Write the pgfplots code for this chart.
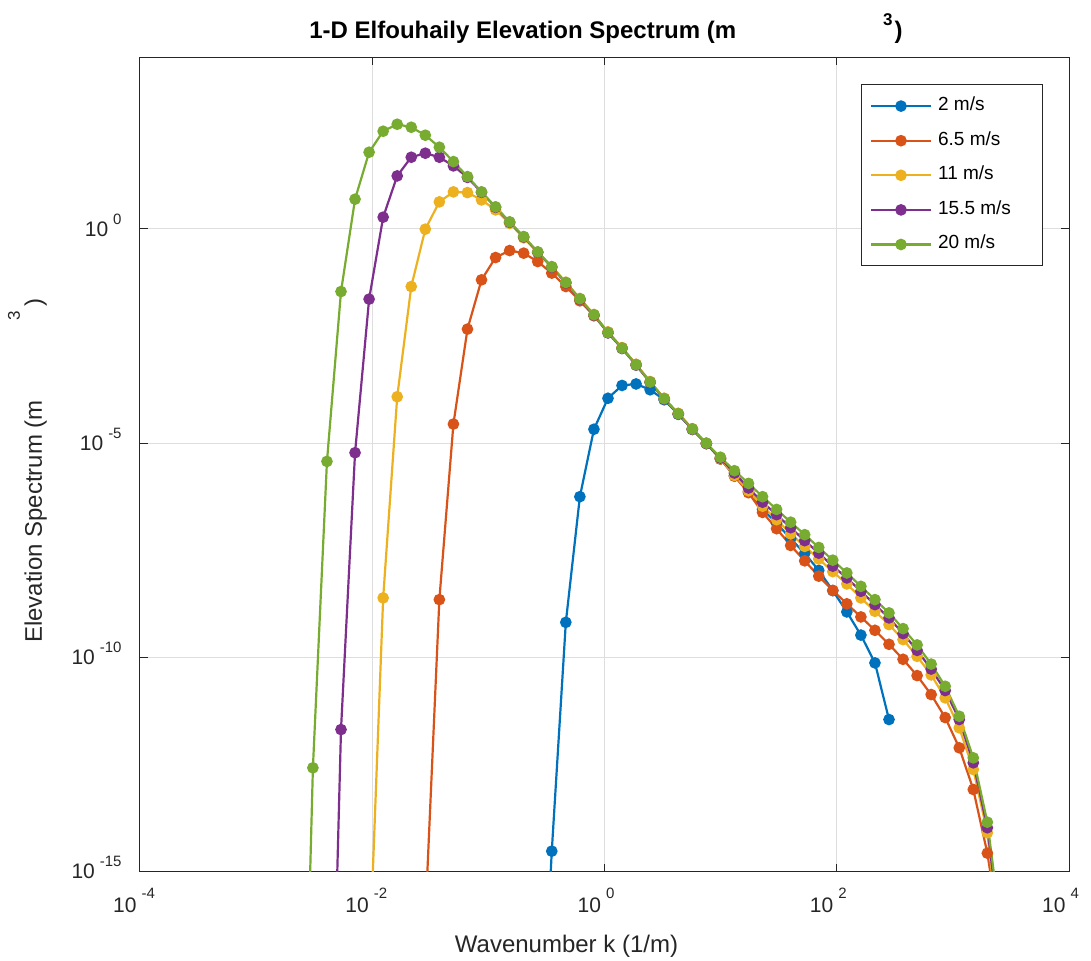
\documentclass[border=0pt]{standalone}
\usepackage{pgfplots}
\pgfplotsset{compat=1.18}
\usepackage{pgfplotstable}
\usepackage{fontspec}
\setmainfont{Liberation Sans}
\definecolor{c1}{rgb}{0,0.447,0.741}
\definecolor{c2}{rgb}{0.85,0.325,0.098}
\definecolor{c3}{rgb}{0.929,0.694,0.125}
\definecolor{c4}{rgb}{0.494,0.184,0.556}
\definecolor{c5}{rgb}{0.466,0.674,0.188}
\definecolor{axc}{rgb}{0.15,0.15,0.15}
\definecolor{gridc}{rgb}{0.87,0.87,0.87}
\newcommand\xl[1]{10\rlap{\hspace{2.5pt}\raisebox{7pt}[0pt][0pt]{\fontsize{7.5}{8}\selectfont #1}}}
\newcommand\yl[1]{10\hspace{2.5pt}\raisebox{6pt}[0pt][0pt]{\fontsize{7.5}{8}\selectfont #1}}

% columns: log10 k, log10 S
\pgfplotstableread{
lk ly
-0.575 -21.0
-0.454 -14.525
-0.333 -9.184
-0.212 -6.251
-0.091 -4.677
0.030 -3.954
0.151 -3.655
0.272 -3.620
0.393 -3.756
0.514 -3.989
0.635 -4.327
0.756 -4.677
0.877 -5.010
0.998 -5.371
1.119 -5.762
1.240 -6.135
1.361 -6.543
1.482 -6.870
1.603 -7.231
1.724 -7.574
1.845 -7.971
1.966 -8.444
2.087 -8.941
2.208 -9.482
2.329 -10.131
2.450 -11.453
}\tblue

\pgfplotstableread{
lk ly
-1.543 -16.1
-1.422 -8.654
-1.301 -4.556
-1.180 -2.340
-1.059 -1.190
-0.938 -0.669
-0.817 -0.506
-0.696 -0.567
-0.575 -0.763
-0.454 -1.033
-0.333 -1.346
-0.212 -1.680
-0.091 -2.029
0.030 -2.410
0.151 -2.775
0.272 -3.165
0.393 -3.568
0.514 -3.958
0.635 -4.310
0.756 -4.668
0.877 -5.008
0.998 -5.371
1.119 -5.773
1.240 -6.158
1.361 -6.618
1.482 -6.998
1.603 -7.390
1.724 -7.749
1.845 -8.106
1.966 -8.439
2.087 -8.752
2.208 -9.058
2.329 -9.370
2.450 -9.697
2.571 -10.047
2.692 -10.427
2.813 -10.870
2.934 -11.407
3.055 -12.113
3.176 -13.086
3.297 -14.572
3.418 -16.7
}\torange

\pgfplotstableread{
lk ly
-2.027 -17.3
-1.906 -8.614
-1.785 -3.919
-1.664 -1.346
-1.543 -0.007
-1.422 0.630
-1.301 0.863
-1.180 0.847
-1.059 0.676
-0.938 0.443
-0.817 0.128
-0.696 -0.210
-0.575 -0.548
-0.454 -0.880
-0.333 -1.245
-0.212 -1.625
-0.091 -1.998
0.030 -2.410
0.151 -2.775
0.272 -3.165
0.393 -3.568
0.514 -3.958
0.635 -4.310
0.756 -4.668
0.877 -5.005
0.998 -5.360
1.119 -5.755
1.240 -6.112
1.361 -6.473
1.482 -6.788
1.603 -7.119
1.724 -7.411
1.845 -7.705
1.966 -8.001
2.087 -8.288
2.208 -8.614
2.329 -8.927
2.450 -9.237
2.571 -9.587
2.692 -9.977
2.813 -10.411
2.934 -10.947
3.055 -11.647
3.176 -12.620
3.297 -14.096
3.418 -17.0
}\tyellow

\pgfplotstableread{
lk ly
-2.390 -24.2
-2.269 -11.687
-2.148 -5.225
-2.027 -1.640
-1.906 0.273
-1.785 1.236
-1.664 1.672
-1.543 1.766
-1.422 1.672
-1.301 1.470
-1.180 1.201
-1.059 0.853
-0.938 0.503
-0.817 0.153
-0.696 -0.190
-0.575 -0.547
-0.454 -0.896
-0.333 -1.263
-0.212 -1.643
-0.091 -2.016
0.030 -2.429
0.151 -2.793
0.272 -3.182
0.393 -3.586
0.514 -3.975
0.635 -4.325
0.756 -4.682
0.877 -5.013
0.998 -5.350
1.119 -5.699
1.240 -6.049
1.361 -6.380
1.482 -6.671
1.603 -6.975
1.724 -7.278
1.845 -7.569
1.966 -7.873
2.087 -8.148
2.208 -8.460
2.329 -8.771
2.450 -9.081
2.571 -9.447
2.692 -9.839
2.813 -10.275
2.934 -10.777
3.055 -11.453
3.176 -12.463
3.297 -13.979
3.418 -16.7
}\tpurple

\pgfplotstableread{
lk ly
-2.632 -25.1
-2.511 -12.58
-2.390 -5.428
-2.269 -1.463
-2.148 0.693
-2.027 1.789
-1.906 2.279
-1.785 2.442
-1.664 2.372
-1.543 2.186
-1.422 1.906
-1.301 1.570
-1.180 1.220
-1.059 0.863
-0.938 0.513
-0.817 0.163
-0.696 -0.180
-0.575 -0.537
-0.454 -0.886
-0.333 -1.253
-0.212 -1.633
-0.091 -2.006
0.030 -2.419
0.151 -2.783
0.272 -3.172
0.393 -3.576
0.514 -3.965
0.635 -4.315
0.756 -4.672
0.877 -5.003
0.998 -5.330
1.119 -5.645
1.240 -5.941
1.361 -6.251
1.482 -6.548
1.603 -6.846
1.724 -7.138
1.845 -7.436
1.966 -7.733
2.087 -8.031
2.208 -8.344
2.329 -8.654
2.450 -8.964
2.571 -9.331
2.692 -9.711
2.813 -10.159
2.934 -10.677
3.055 -11.376
3.176 -12.347
3.297 -13.849
3.418 -16.4
}\tgreen

\begin{document}
\begin{tikzpicture}
\begin{axis}[name=ax, scale only axis, width=464.5pt, height=407pt,
  xmode=log, ymode=log, xmin=1e-4, xmax=1e4, ymin=1e-15, ymax=1e4,
  xtick={1e-4,1e-2,1,1e2,1e4},
  xticklabels={\xl{-4},\xl{-2},\xl{0},\xl{2},\xl{4}},
  ytick={1e-15,1e-10,1e-5,1},
  yticklabels={\yl{-15},\yl{-10},\yl{-5},\yl{0}},
  xminorticks=false, yminorticks=false,
  grid=major, major grid style={color=gridc, line width=0.5pt},
  axis line style={color=axc, line width=0.5pt},
  tick style={color=axc, line width=0.5pt}, major tick length=4pt,
  tick align=inside,
  every tick label/.append style={font=\fontsize{10.5}{12}\selectfont, text=axc},
  xticklabel style={anchor=north east, inner sep=0pt, xshift=-1.5pt, yshift=-13pt},
  yticklabel style={anchor=east, inner sep=0pt, xshift=-9pt},
  legend style={at={(1,1)}, anchor=north east, xshift=-13.2pt, yshift=-13.4pt,
    draw=axc, line width=0.5pt, fill=white, inner xsep=4pt, inner ysep=5.9pt,
    row sep=7.8pt, column sep=3pt, font=\fontsize{9.5}{11}\selectfont,
    nodes={inner sep=0pt, text height=7pt, text depth=2.5pt}},
  legend cell align=left,
  legend image code/.code={\draw[mark repeat=2,mark phase=2,#1] plot coordinates {(0pt,0pt) (15pt,0pt) (30pt,0pt)};},
  every axis plot/.append style={line width=1.1pt, mark=*, mark size=2.35pt, mark options={solid, line width=0.4pt}},
]
\addplot[c1, mark options={fill=c1}] table[x expr={10^(\thisrow{lk})}, y expr={10^(\thisrow{ly})}] {\tblue};
\addlegendentry{\makebox[48pt][l]{2 m/s}}
\addplot[c2, mark options={fill=c2}] table[x expr={10^(\thisrow{lk})}, y expr={10^(\thisrow{ly})}] {\torange};
\addlegendentry{\makebox[48pt][l]{6.5 m/s}}
\addplot[c3, mark options={fill=c3}] table[x expr={10^(\thisrow{lk})}, y expr={10^(\thisrow{ly})}] {\tyellow};
\addlegendentry{\makebox[48pt][l]{11 m/s}}
\addplot[c4, mark options={fill=c4}] table[x expr={10^(\thisrow{lk})}, y expr={10^(\thisrow{ly})}] {\tpurple};
\addlegendentry{\makebox[48pt][l]{15.5 m/s}}
\addplot[c5, mark options={fill=c5}] table[x expr={10^(\thisrow{lk})}, y expr={10^(\thisrow{ly})}] {\tgreen};
\addlegendentry{\makebox[48pt][l]{20 m/s}}
\end{axis}
\node[anchor=base, font=\fontsize{12}{14}\selectfont\bfseries] at ([xshift=0.75pt, yshift=9.5pt]ax.north)
  {1-D Elfouhaily Elevation Spectrum (m\hspace{73.5pt}\raisebox{6.5pt}{\fontsize{8.5}{9}\selectfont 3}\hspace{1pt})};
\node[anchor=base, font=\fontsize{12}{14}\selectfont, text=axc] at ([xshift=-19pt, yshift=-40.7pt]ax.south)
  {Wavenumber k (1/m)};
\node[anchor=base, rotate=90, font=\fontsize{12}{14}\selectfont, text=axc] at ([xshift=-49pt, yshift=-3pt]ax.west)
  {Elevation Spectrum (m\hspace{40pt}\raisebox{11pt}{\fontsize{8.5}{9}\selectfont 3}\hspace{2.25pt})};
\pgfresetboundingbox
\path ([xshift=-70pt, yshift=-44.7pt]ax.south west) rectangle ([xshift=11pt, yshift=28.75pt]ax.north east);
\end{tikzpicture}
\end{document}
